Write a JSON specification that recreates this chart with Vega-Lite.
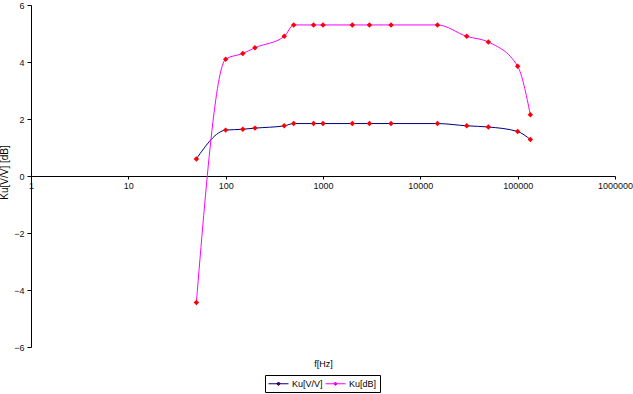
{
  "$schema": "https://vega.github.io/schema/vega-lite/v6.json",
  "width": 584,
  "height": 342,
  "autosize": {"type": "none"},
  "padding": {"left": 31, "top": 5, "right": 18, "bottom": 47},
  "background": "white",
  "config": {
    "view": {"stroke": null},
    "font": "Liberation Sans",
    "axis": {
      "grid": false,
      "domainColor": "black",
      "tickColor": "black",
      "labelColor": "#111111",
      "labelFontSize": 9,
      "titleFontSize": 9,
      "titleFontWeight": "normal",
      "titleColor": "black",
      "labelFont": "Liberation Sans",
      "titleFont": "Liberation Sans"
    }
  },
  "data": {
    "values": [
      {"f": 50, "series": "Ku[V/V]", "v": 0.6},
      {"f": 100, "series": "Ku[V/V]", "v": 1.61},
      {"f": 150, "series": "Ku[V/V]", "v": 1.64},
      {"f": 200, "series": "Ku[V/V]", "v": 1.68},
      {"f": 400, "series": "Ku[V/V]", "v": 1.76},
      {"f": 500, "series": "Ku[V/V]", "v": 1.84},
      {"f": 800, "series": "Ku[V/V]", "v": 1.84},
      {"f": 1000, "series": "Ku[V/V]", "v": 1.84},
      {"f": 2000, "series": "Ku[V/V]", "v": 1.84},
      {"f": 3000, "series": "Ku[V/V]", "v": 1.84},
      {"f": 5000, "series": "Ku[V/V]", "v": 1.84},
      {"f": 15000, "series": "Ku[V/V]", "v": 1.84},
      {"f": 30000, "series": "Ku[V/V]", "v": 1.76},
      {"f": 50000, "series": "Ku[V/V]", "v": 1.72},
      {"f": 100000, "series": "Ku[V/V]", "v": 1.56},
      {"f": 135000, "series": "Ku[V/V]", "v": 1.28},
      {"f": 50, "series": "Ku[dB]", "v": -4.44},
      {"f": 100, "series": "Ku[dB]", "v": 4.1},
      {"f": 150, "series": "Ku[dB]", "v": 4.3},
      {"f": 200, "series": "Ku[dB]", "v": 4.5},
      {"f": 400, "series": "Ku[dB]", "v": 4.9},
      {"f": 500, "series": "Ku[dB]", "v": 5.3},
      {"f": 800, "series": "Ku[dB]", "v": 5.3},
      {"f": 1000, "series": "Ku[dB]", "v": 5.3},
      {"f": 2000, "series": "Ku[dB]", "v": 5.3},
      {"f": 3000, "series": "Ku[dB]", "v": 5.3},
      {"f": 5000, "series": "Ku[dB]", "v": 5.3},
      {"f": 15000, "series": "Ku[dB]", "v": 5.3},
      {"f": 30000, "series": "Ku[dB]", "v": 4.9},
      {"f": 50000, "series": "Ku[dB]", "v": 4.7},
      {"f": 100000, "series": "Ku[dB]", "v": 3.85},
      {"f": 135000, "series": "Ku[dB]", "v": 2.15}
    ]
  },
  "layer": [
    {
      "mark": {"type": "line", "interpolate": "monotone", "strokeWidth": 1},
      "encoding": {
        "x": {
          "field": "f",
          "type": "quantitative",
          "scale": {"type": "log", "domain": [1, 1000000], "nice": false},
          "axis": {
            "orient": "bottom",
            "offset": -171,
            "values": [1, 10, 100, 1000, 10000, 100000, 1000000],
            "format": "d",
            "tickSize": 3,
            "labelPadding": 2,
            "labelFlush": false,
            "labelOverlap": false,
            "title": "f[Hz]",
            "titleY": 187,
            "titleBaseline": "middle"
          }
        },
        "y": {
          "field": "v",
          "type": "quantitative",
          "scale": {"domain": [-6, 6], "nice": false},
          "axis": {
            "values": [-6, -4, -2, 0, 2, 4, 6],
            "tickSize": 4,
            "labelPadding": 3,
            "title": "Ku[V/V]  [dB]",
            "titleFontSize": 10,
            "titleX": -27,
            "titleY": 167,
            "titleBaseline": "middle",
            "titleAlign": "center"
          }
        },
        "color": {
          "field": "series",
          "type": "nominal",
          "scale": {"domain": ["Ku[V/V]", "Ku[dB]"], "range": ["#000080", "#ff00ff"]},
          "legend": {
            "orient": "none",
            "legendX": 234,
            "legendY": 370,
            "direction": "horizontal",
            "title": null,
            "strokeColor": "black",
            "padding": 3,
            "labelFontSize": 9,
            "labelFont": "Liberation Sans",
            "labelColor": "black",
            "symbolType": "M-1,0H3M1,-0.35L1.35,0L1,0.35L0.65,0Z",
            "symbolSize": 100,
            "symbolFillColor": "red",
            "symbolStrokeWidth": 1,
            "labelOffset": 13,
            "columnPadding": 0
          }
        }
      }
    },
    {
      "mark": {"type": "point", "shape": "diamond", "filled": true, "color": "red", "size": 30, "opacity": 1},
      "encoding": {
        "x": {"field": "f", "type": "quantitative"},
        "y": {"field": "v", "type": "quantitative"},
        "detail": {"field": "series", "type": "nominal"}
      }
    }
  ]
}
